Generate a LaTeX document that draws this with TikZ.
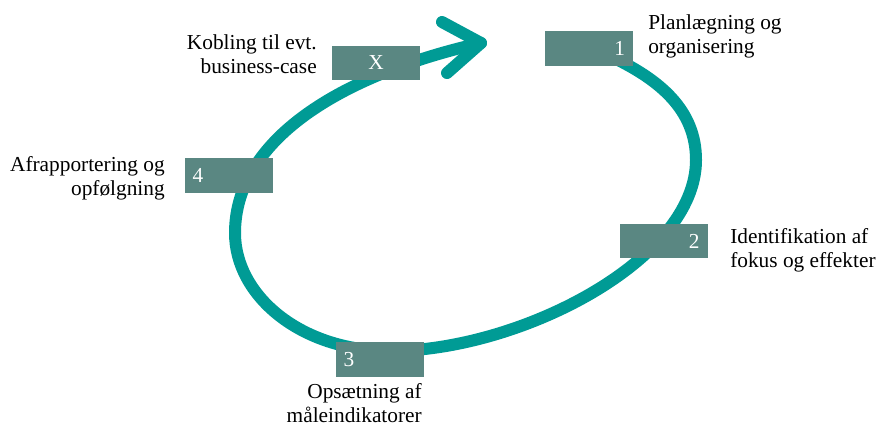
\documentclass[tikz,border=0pt]{standalone}
\usepackage{fontspec}
\setmainfont{Liberation Serif}
\usepackage{tikz}
\usetikzlibrary{positioning}
\definecolor{ringteal}{RGB}{0,155,149}
\definecolor{boxteal}{RGB}{90,135,130}

\begin{document}
\begin{tikzpicture}[x=0.75pt,y=-0.75pt,
    stepbox/.style={fill=boxteal,text=white,inner xsep=6pt,inner ysep=0pt,
      minimum height=26pt,text width=54pt,font=\fontsize{16}{18}\selectfont},
    steptext/.style={inner sep=0pt,font=\fontsize{16}{18}\selectfont}]
  \useasboundingbox (0,0) rectangle (877,426);
  % the cycle
  \draw[ringteal,line width=9pt,line cap=round]
    (612,57) .. controls (660,80) and (696,110) .. (696,160)
    .. controls (696,260) and (520,351) .. (390,351)
    .. controls (300,351) and (235,295) .. (235,233)
    .. controls (235,140) and (340,75) .. (481,43);
  \draw[ringteal,line width=9pt,line cap=round,line join=round]
    (442,22) -- (481,43) -- (447,73);
  % steps
  \node[stepbox,align=center] (boxX) at (376,63) {X};
  \node[stepbox,align=right]  (box1) at (589,48.5) {1};
  \node[stepbox,align=right]  (box2) at (663.5,241) {2};
  \node[stepbox,align=left]   (box3) at (379.5,359.5) {3};
  \node[stepbox,align=left]   (box4) at (228.5,175.5) {4};
  % texts
  \node[steptext,align=right,anchor=base east] (labX) at (317,73) {Kobling til evt.\\business-case};
  \node[steptext,align=left,anchor=base west]  (lab1) at (648,53) {Planlægning og\\organisering};
  \node[steptext,align=left,anchor=base west]  (lab2) at (730,267) {Identifikation af\\fokus og effekter};
  \node[steptext,align=right,anchor=base east] (lab3) at (422,422) {Opsætning af\\måleindikatorer};
  \node[steptext,align=right,anchor=base east] (lab4) at (165,195) {Afrapportering og\\opfølgning};
\end{tikzpicture}
\end{document}
